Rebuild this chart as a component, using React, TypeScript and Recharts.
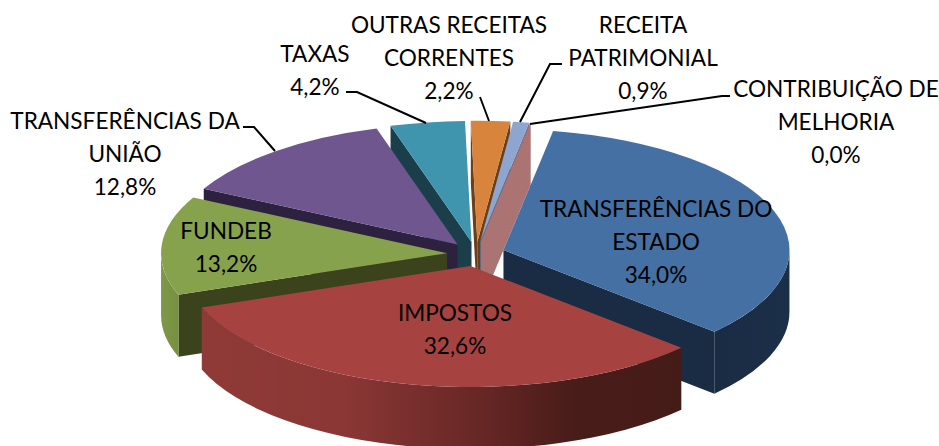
import { PieChart, Pie } from 'recharts';

const categories = [
  'TRANSFERÊNCIAS DO ESTADO',
  'IMPOSTOS',
  'FUNDEB',
  'TRANSFERÊNCIAS DA UNIÃO',
  'TAXAS',
  'OUTRAS RECEITAS CORRENTES',
  'RECEITA PATRIMONIAL',
  'CONTRIBUIÇÃO DE MELHORIA',
];
const shares = [34.0, 32.6, 13.2, 12.8, 4.2, 2.2, 0.9, 0.04];

const topColors = ['#4570A4', '#A64340', '#87A24C', '#6F568E', '#3F95AE', '#D8843C', '#8EA6CF', '#AB7472'];
const wallColors = ['#1A2C44', '#451B18', '#3A431B', '#2D2140', '#1A3E4A', '#6B3F1A', '#5F7090', '#AB7472'];
const rimStops: Record<string, [number, string][]> = {
  'IMPOSTOS': [[0, '#8F3A37'], [0.3, '#8A3735'], [0.6, '#642624'], [0.78, '#481C19'], [1, '#451B18']],
  'FUNDEB': [[0, '#7F9849'], [1, '#76903F']],
  'TRANSFERÊNCIAS DO ESTADO': [[0, '#1A2C44'], [1, '#1C2F48']],
};

// back to front
const paintOrder = [4, 3, 2, 5, 6, 7, 0, 1];

// wrapped text, centre x, first line y, leader polyline
const labelLayout = [
  { lines: ['TRANSFERÊNCIAS DO', 'ESTADO'], x: 656, y: 208, leader: '' },
  { lines: ['IMPOSTOS'], x: 455, y: 312, leader: '' },
  { lines: ['FUNDEB'], x: 226, y: 230, leader: '' },
  { lines: ['TRANSFERÊNCIAS DA', 'UNIÃO'], x: 125, y: 120, leader: '243,127 254,127 275,151' },
  { lines: ['TAXAS'], x: 315, y: 53, leader: '346,92 357,92 426,123' },
  { lines: ['OUTRAS RECEITAS', 'CORRENTES'], x: 449, y: 24, leader: '480,97 489,121' },
  { lines: ['RECEITA', 'PATRIMONIAL'], x: 643, y: 24, leader: '562,64 550,64 520,122' },
  { lines: ['CONTRIBUIÇÃO DE', 'MELHORIA'], x: 836, y: 88, leader: '730,96 722,96 530,124' },
];

const SQUASH = 0.423;
const EXPLODE = 29;
const DEPTH = 62;
const RAD = Math.PI / 180;

const tableData = categories.map((name, i) => ({ name, value: shares[i], index: i }));

function Slice3D(props: any) {
  const { cx, cy, outerRadius: r, startAngle, endAngle, payload } = props;
  const i = payload.index;
  const a0 = Math.min(startAngle, endAngle);
  const a1 = Math.max(startAngle, endAngle);
  const mid = ((a0 + a1) / 2) * RAD;
  const ox = cx + EXPLODE * Math.cos(mid);
  const oy = cy - EXPLODE * SQUASH * Math.sin(mid);
  const px = (a: number) => ox + r * Math.cos(a * RAD);
  const py = (a: number) => oy - r * SQUASH * Math.sin(a * RAD);
  const rx = r;
  const ry = r * SQUASH;

  // radial cut face at angle a
  const cutFace = (a: number) =>
    `M${ox},${oy} L${px(a)},${py(a)} L${px(a)},${py(a) + DEPTH} L${ox},${oy + DEPTH} Z`;

  const faces: JSX.Element[] = [];
  if (Math.cos(a0 * RAD) > 0) faces.push(<path key="low" d={cutFace(a0)} fill={wallColors[i]} />);
  if (Math.cos(a1 * RAD) < 0) faces.push(<path key="high" d={cutFace(a1)} fill={wallColors[i]} />);

  // outer wall, only the part that faces the viewer
  let from = a0;
  let to = a1;
  while (from < 0) { from += 360; to += 360; }
  while (from >= 360) { from -= 360; to -= 360; }
  const w0 = Math.max(from, 180);
  const w1 = Math.min(to, 360);
  const gradId = `rim-${i}`;
  const stops = rimStops[categories[i]];
  if (w1 > w0) {
    const sweep = w1 - w0 > 180 ? 1 : 0;
    faces.push(
      <path
        key="rim"
        d={`M${px(w0)},${py(w0)} A${rx},${ry} 0 ${sweep} 0 ${px(w1)},${py(w1)} L${px(w1)},${py(w1) + DEPTH} A${rx},${ry} 0 ${sweep} 1 ${px(w0)},${py(w0) + DEPTH} Z`}
        fill={stops ? `url(#${gradId})` : wallColors[i]}
      />,
    );
  }

  const large = a1 - a0 > 180 ? 1 : 0;
  const top = `M${ox},${oy} L${px(a0)},${py(a0)} A${rx},${ry} 0 ${large} 0 ${px(a1)},${py(a1)} Z`;

  return (
    <g>
      {stops && w1 > w0 && (
        <defs>
          <linearGradient id={gradId} gradientUnits="userSpaceOnUse" x1={Math.min(px(w0), px(w1))} x2={Math.max(px(w0), px(w1))} y1={0} y2={0}>
            {stops.map(([o, c]) => <stop key={o} offset={o} stopColor={c} />)}
          </linearGradient>
        </defs>
      )}
      {faces}
      <path d={top} fill={topColors[i]} />
    </g>
  );
}

function renderLabel(props: any) {
  const i = props.payload?.index ?? props.index;
  const layout = labelLayout[i];
  const lines = [...layout.lines, `${shares[i].toFixed(1).replace('.', ',')}%`];
  return (
    <g key={categories[i]}>
      {layout.leader && <polyline points={layout.leader} fill="none" stroke="#000" strokeWidth={2} />}
      <text textAnchor="middle" fontFamily="Lato, sans-serif" fontSize={22.6} fill="#000">
        {lines.map((line, n) => (
          <tspan key={n} x={layout.x} y={layout.y + n * 33} dominantBaseline="central">{line}</tspan>
        ))}
      </text>
    </g>
  );
}

export default function App() {
  return (
    <div style={{ position: 'absolute', left: 0, top: 0, width: 939, height: 446, background: '#fff' }}>
      <PieChart width={939} height={446} margin={{ top: 0, right: 0, bottom: 0, left: 0 }}>
        {paintOrder.map((idx, n) => (
          <Pie
            key={categories[idx]}
            data={tableData}
            dataKey="value"
            nameKey="name"
            cx={476}
            cy={254}
            outerRadius={286}
            startAngle={80}
            endAngle={-280}
            stroke="none"
            isAnimationActive={false}
            shape={(p: any) => (p.payload.index === idx ? <Slice3D {...p} /> : <g />)}
            label={n === paintOrder.length - 1 ? renderLabel : false}
            labelLine={false}
          />
        ))}
      </PieChart>
    </div>
  );
}
